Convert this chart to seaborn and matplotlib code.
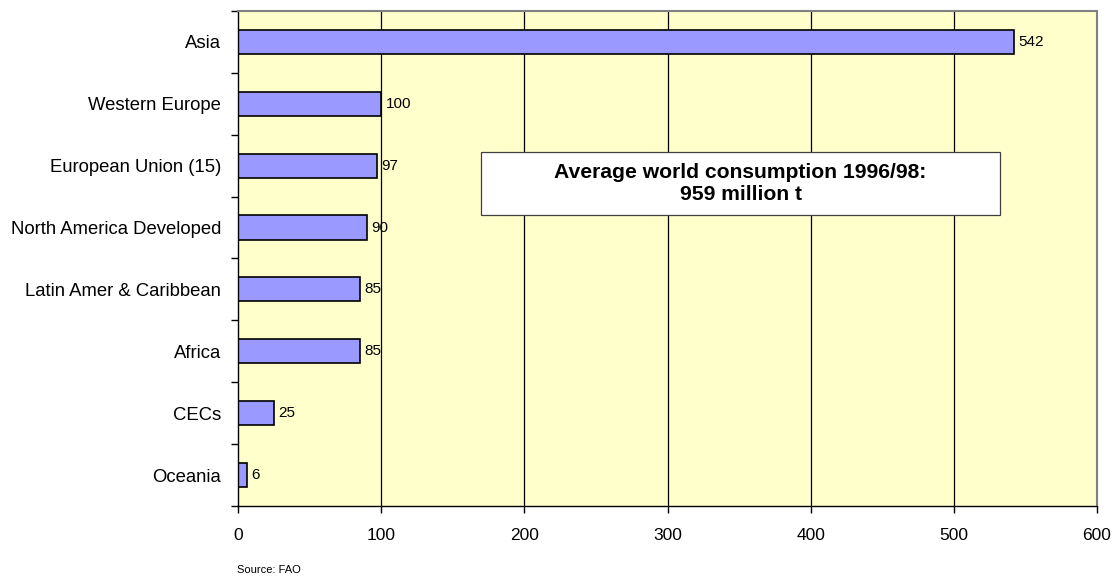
import matplotlib
matplotlib.use("Agg")
import matplotlib.pyplot as plt
import seaborn as sns
import pandas as pd
from matplotlib.patches import Rectangle

# Consumption by region, million t (average 1996/98)
regions = ["Asia", "Western Europe", "European Union (15)", "North America Developed",
           "Latin Amer & Caribbean", "Africa", "CECs", "Oceania"]
values = [542, 100, 97, 90, 85, 85, 25, 6]
x_ticks = [0, 100, 200, 300, 400, 500, 600]
box_text = "Average world consumption 1996/98:\n959 million t"
source_text = "Source: FAO"

df = pd.DataFrame({"region": regions, "value": values})

sns.set_style("white")
plt.rcParams["font.family"] = ["Liberation Sans", "DejaVu Sans"]
plt.rcParams["text.color"] = "black"
plt.rcParams["xtick.color"] = "black"
plt.rcParams["ytick.color"] = "black"

fig = plt.figure(figsize=(11.17, 5.81), dpi=100)
ax = fig.add_axes([0.2131, 0.1291, 0.7690, 0.8520])
ax.set_facecolor("#FFFFCC")

sns.barplot(data=df, x="value", y="region", orient="h", color="#9999FF",
            saturation=1, width=0.39, edgecolor="black", linewidth=1.2, ax=ax)

# value labels at bar ends
for i, v in enumerate(values):
    ax.text(v + 3, i, str(v), va="center", ha="left", fontsize=11, color="black")

ax.set_xlim(0, 600)
ax.set_ylim(len(regions) - 0.5, -0.5)
ax.set_xticks(x_ticks)
ax.set_xticklabels([str(t) for t in x_ticks], fontsize=12.5)
ax.set_yticks(range(len(regions)))
ax.set_yticklabels(regions, fontsize=13.3)
ax.set_xlabel("")
ax.set_ylabel("")

# vertical gridlines
for t in x_ticks[1:-1]:
    ax.axvline(t, color="black", linewidth=0.9, zorder=0.5)

# ticks at category boundaries on the y axis
ax.set_yticks([i - 0.5 for i in range(len(regions) + 1)], minor=True)
ax.tick_params(axis="y", which="major", left=True, length=0, pad=12)
ax.tick_params(axis="y", which="minor", left=True, length=5, width=1, color="black", direction="out")
ax.tick_params(axis="x", which="major", bottom=True, length=5, width=1, color="black",
               direction="out", pad=11)

for side in ["left", "bottom"]:
    ax.spines[side].set_color("black")
    ax.spines[side].set_linewidth(1)
for side in ["top", "right"]:
    ax.spines[side].set_color("#808080")
    ax.spines[side].set_linewidth(1.5)

# annotation box
ax.add_patch(Rectangle((0.283, 0.588), 0.604, 0.127, transform=ax.transAxes,
                       facecolor="white", edgecolor="#404040", linewidth=0.9, zorder=5))
ax.text(0.585, 0.6515, box_text, transform=ax.transAxes, ha="center", va="center",
        fontsize=15.2, fontweight="bold", linespacing=1.25, color="black", zorder=6)

fig.text(237 / 1117, 1 - 570 / 581, source_text, ha="left", va="center", fontsize=8,
         color="black")

fig.savefig("out.png", dpi=100, facecolor="white")
